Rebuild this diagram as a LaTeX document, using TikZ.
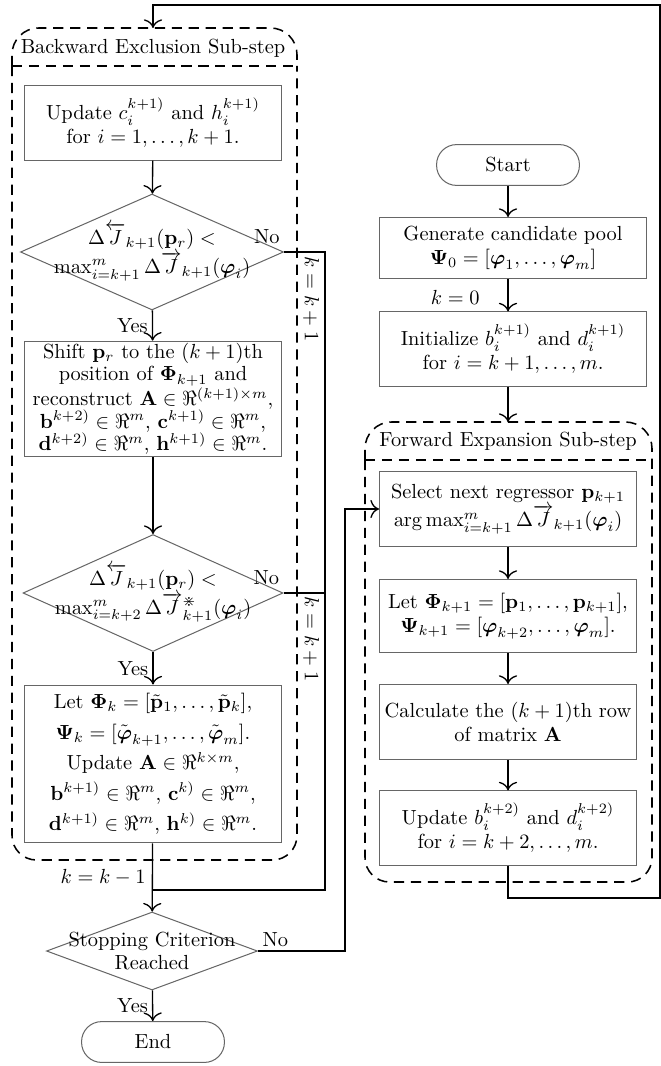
\documentclass[tikz,border=0pt]{standalone}
\usepackage{amsmath,amssymb}
\usetikzlibrary{arrows.meta,shapes.geometric,calc}
\tikzset{
 box/.style={draw=black!60,line width=.5pt,align=center,inner sep=2pt},
 lbox/.style={box,minimum width=126.4pt},
 rbox/.style={box,minimum width=125.9pt},
 term/.style={box,rounded corners=9.8pt,minimum width=70pt,minimum height=20pt},
 decision/.style={draw=black!60,line width=.5pt,diamond,inner sep=0pt},
 dtext/.style={align=center,inner sep=0pt,font=\fontsize{10}{11}\selectfont},
 lab/.style={inner sep=2pt},
 arr/.style={-{To[scale=1.4]},line width=.65pt},
 link/.style={line width=.65pt},
 subgroup/.style={dash pattern=on 5pt off 3.3pt,line width=.75pt}
}

\begin{document}
\begin{tikzpicture}[x=.49pt,y=-.49pt,font=\fontsize{10}{12}\selectfont]
\useasboundingbox (0,0) rectangle (661,1066);
% sub-step frames
\draw[subgroup,rounded corners=13pt] (12,66) -- (12,28) -- (297,28) -- (297,66);
\draw[subgroup] (12,66) -- (297,66);
\draw[subgroup,rounded corners=12pt] (12,66) -- (12,860) -- (297,860) -- (297,66);
\node[lab] (hdrB) at (153,48) {Backward Exclusion Sub-step};
\draw[subgroup,rounded corners=13pt] (365,460) -- (365,422) -- (652,422) -- (652,460);
\draw[subgroup] (365,460) -- (652,460);
\draw[subgroup,rounded corners=12pt] (365,460) -- (365,882) -- (652,882) -- (652,460);
\node[lab] (hdrF) at (508,441) {Forward Expansion Sub-step};

% forward side
\node[term] (start) at (508,165) {Start};
\node[box,minimum width=130.8pt,minimum height=29.9pt] (pool) at (513,248) {Generate candidate pool\\$\mathbf{\Psi}_0=[\boldsymbol{\varphi}_1,\ldots,\boldsymbol{\varphi}_m]$};
\node[box,minimum width=130.8pt,minimum height=36.3pt] (init) at (513,349) {Initialize $b_i^{k+1)}$ and $d_i^{k+1)}$\\for $i=k+1,\ldots,m$.};
\node[rbox,minimum height=36.8pt] (sel) at (508,509) {Select next regressor $\mathbf{p}_{k+1}$\\$\arg\max_{i=k+1}^{m}\Delta\overrightarrow{J}_{k+1}(\boldsymbol{\varphi}_i)$};
\node[rbox,minimum height=35.8pt] (letk1) at (508,616) {Let $\mathbf{\Phi}_{k+1}=[\mathbf{p}_1,\ldots,\mathbf{p}_{k+1}]$,\\$\mathbf{\Psi}_{k+1}=[\boldsymbol{\varphi}_{k+2},\ldots,\boldsymbol{\varphi}_m]$.};
\node[rbox,minimum height=36.8pt] (row) at (508,722) {Calculate the $(k+1)$th row\\of matrix $\mathbf{A}$};
\node[rbox,minimum height=36.3pt] (updBD) at (508,828) {Update $b_i^{k+2)}$ and $d_i^{k+2)}$\\for $i=k+2,\ldots,m$.};

% backward side
\node[lbox,minimum height=36.3pt] (updCH) at (153,123) {Update $c_i^{k+1)}$ and $h_i^{k+1)}$\\for $i=1,\ldots,k+1$.};
\node[decision,minimum width=128.9pt,minimum height=56.8pt] (chkA) at (152,252) {};
\node[dtext] (chkAt) at (chkA) {$\Delta\overleftarrow{J}_{k+1}(\mathbf{p}_r)<$\\$\max_{i=k+1}^{m}\Delta\overrightarrow{J}_{k+1}(\boldsymbol{\varphi}_i)$};
\node[lbox,minimum height=54.9pt,inner sep=1pt,font=\fontsize{10}{11}\selectfont] (shift) at (153,399) {Shift $\mathbf{p}_r$ to the $(k+1)$th\\position of $\mathbf{\Phi}_{k+1}$ and\\reconstruct $\mathbf{A}\in\Re^{(k+1)\times m}$,\\$\mathbf{b}^{k+2)}\in\Re^m$, $\mathbf{c}^{k+1)}\in\Re^m$,\\$\mathbf{d}^{k+2)}\in\Re^m$, $\mathbf{h}^{k+1)}\in\Re^m$.};
\node[decision,minimum width=127.4pt,minimum height=57.3pt] (chkB) at (153,593) {};
\node[dtext] (chkBt) at (chkB) {$\Delta\overleftarrow{J}_{k+1}(\mathbf{p}_r)<$\\$\max_{i=k+2}^{m}\Delta\overrightarrow{J}^{\divideontimes}_{k+1}(\boldsymbol{\varphi}_i)$};
\node[lbox,minimum height=77.4pt,font=\fontsize{10}{15}\selectfont] (letk) at (153,764) {Let $\mathbf{\Phi}_k=[\tilde{\mathbf{p}}_1,\ldots,\tilde{\mathbf{p}}_k]$,\\$\mathbf{\Psi}_k=[\tilde{\boldsymbol{\varphi}}_{k+1},\ldots,\tilde{\boldsymbol{\varphi}}_m]$.\\Update $\mathbf{A}\in\Re^{k\times m}$,\\$\mathbf{b}^{k+1)}\in\Re^m$, $\mathbf{c}^{k)}\in\Re^m$,\\$\mathbf{d}^{k+1)}\in\Re^m$, $\mathbf{h}^{k)}\in\Re^m$.};
\node[decision,minimum width=103.4pt,minimum height=38.2pt] (stop) at (152,951) {};
\node[dtext] (stopt) at (stop) {Stopping Criterion\\Reached};
\node[term] (end) at (153,1042) {End};

% turning points
\coordinate (inB) at (153,28);
\coordinate (inF) at (508,422);
\coordinate (loopR) at (660,898);
\coordinate (loopT) at (660,5);
\coordinate (noR) at (325,890);
\coordinate (merge) at (153,890);
\coordinate (stopR) at (345,951);

% connectors
\draw[arr] (start) -- (start |- pool.north);
\draw[arr] (pool.south -| start) -- (start |- init.north);
\node[lab,anchor=east] (kzero) at (484,297) {$k=0$};
\draw[arr] (init.south -| start) -- (inF);
\draw[arr] (sel) -- (letk1);
\draw[arr] (letk1) -- (row);
\draw[arr] (row) -- (updBD);
\draw[arr] (updBD.south) |- (loopR) -- (loopT) -| (inB);

\draw[arr] (updCH) -- (chkA);
\draw[arr] (chkA) -- node[lab,left] {Yes} (shift);
\draw[arr] (shift) -- (chkB);
\draw[arr] (chkB) -- node[lab,left] {Yes} (letk);
\draw[arr] (letk) -- (stop);
\draw[link] (chkA.east) -| (noR) -- (merge);
\draw[link] (chkB.east) -- (chkB.east -| noR);
\node[lab,anchor=south east,yshift=2pt] (noA) at (chkA.east) {No};
\node[lab,anchor=south east,yshift=2pt] (noB) at (chkB.east) {No};
\node[lab,rotate=-90] (kincA) at (311,299) {$k=k+1$};
\node[lab,rotate=-90] (kincB) at (311,639) {$k=k+1$};
\node[lab,anchor=east] (kdec) at (150,877) {$k=k-1$};
\draw[arr] (stop.east) -- (stopR) |- (sel.west);
\node[lab,anchor=south west] (noS) at (stop.east) {No};
\draw[arr] (stop) -- node[lab,left] {Yes} (end);
\end{tikzpicture}
\end{document}
